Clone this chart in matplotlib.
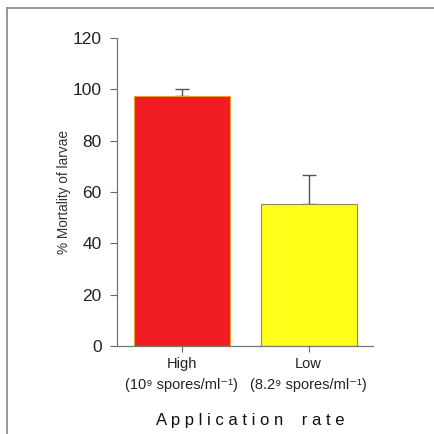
import matplotlib
matplotlib.use("Agg")
import matplotlib.pyplot as plt
from matplotlib.lines import Line2D

plt.rcParams['font.family'] = ['Liberation Sans', 'DejaVu Sans']

# data
categories = ['High\n(10⁹ spores/ml⁻¹)', 'Low\n(8.2⁹ spores/ml⁻¹)']
mortality = [97.5, 55.5]
upper_err = [2.8, 11.0]
bar_colors = ['#f01c24', '#ffff1a']
edge_colors = ['#e8a020', '#8a8a60']

fig = plt.figure(figsize=(4.35, 4.34), dpi=100)
ax = fig.add_axes([0.269, 0.2028, 0.5885, 0.7097])

x = list(range(len(categories)))
ax.bar(x, mortality, width=0.756, color=bar_colors, edgecolor=edge_colors, linewidth=0.8, zorder=2)
ax.errorbar(x, mortality, yerr=[[0] * len(x), upper_err], fmt='none',
            ecolor='#555555', elinewidth=1, capsize=5, capthick=1, zorder=1)

ax.set_xlim(-0.508, 1.508)
ax.set_ylim(0, 120)
ax.set_yticks(range(0, 121, 20))
ax.set_xticks(x)
ax.set_xticklabels(categories, fontsize=10.5, color='#222222', linespacing=1.6)
ax.tick_params(axis='y', labelsize=12.5, colors='#222222', length=5, width=0.8, color='#666666', pad=6)
ax.tick_params(axis='x', length=4, width=0.8, color='#666666', pad=4)

for side in ['top', 'right']:
    ax.spines[side].set_visible(False)
for side in ['left', 'bottom']:
    ax.spines[side].set_color('#777777')
    ax.spines[side].set_linewidth(0.9)

ax.set_ylabel('% Mortality of larvae', fontsize=9.8, color='#333333', labelpad=1)

fig.text(0.575, 0.013, 'A p p l i c a t i o n    r a t e', ha='center', va='bottom',
         fontsize=12, color='#111111')

# frame around the figure (left and top edges visible)
fig.add_artist(Line2D([0.016, 0.016], [0.0, 0.982], color='#888888', lw=1.2))
fig.add_artist(Line2D([0.016, 1.0], [0.982, 0.982], color='#888888', lw=1.2))

fig.savefig('out.png', dpi=100)
